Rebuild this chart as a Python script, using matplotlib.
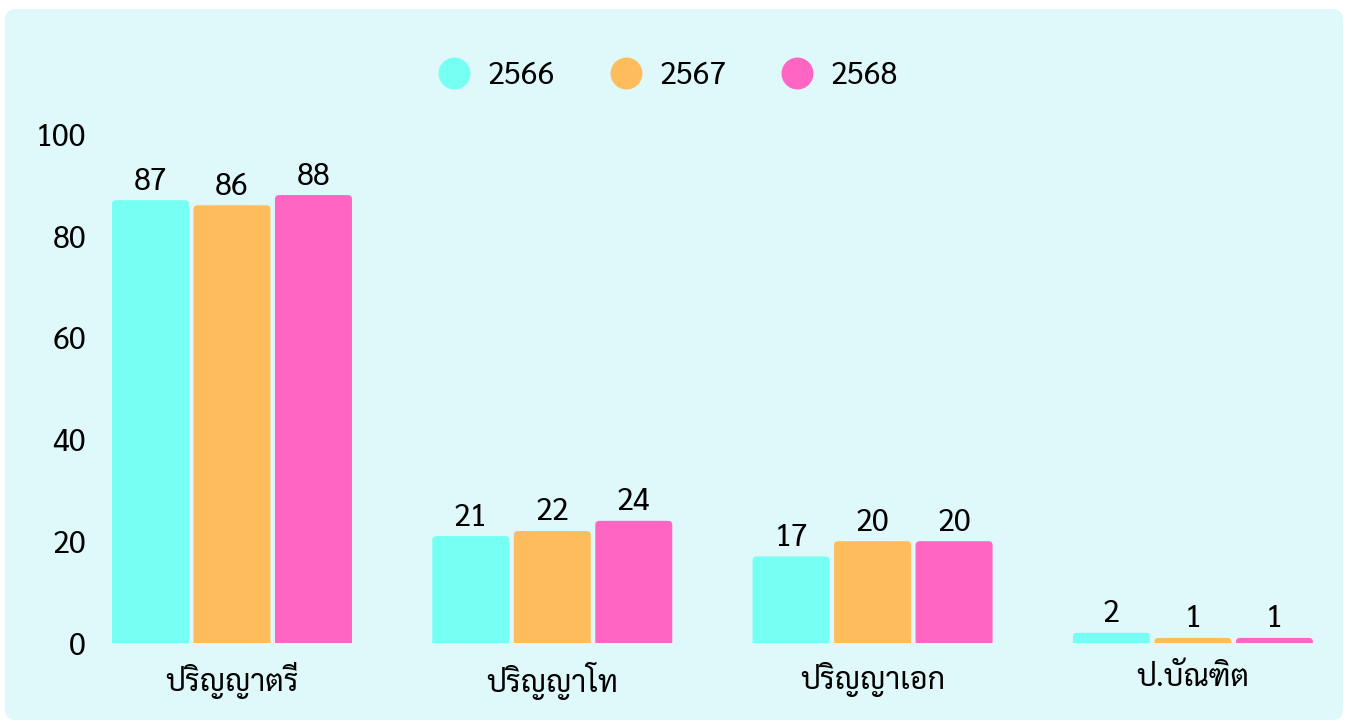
import matplotlib
matplotlib.use('Agg')
import matplotlib.pyplot as plt
from matplotlib.patches import FancyBboxPatch
from matplotlib.lines import Line2D
import numpy as np

categories = ['ปริญญาตรี', 'ปริญญาโท', 'ปริญญาเอก', 'ป.บัณฑิต']
years = ['2566', '2567', '2568']
values_2566 = [87, 21, 17, 2]
values_2567 = [86, 22, 20, 1]
values_2568 = [88, 24, 20, 1]
colors = ['#76FFF3', '#FDBD5D', '#FF66C4']

plt.rcParams['font.family'] = ['Sarabun', 'Noto Sans Thai Looped', 'DejaVu Sans']
FS = 22

fig = plt.figure(figsize=(13.47, 7.22), dpi=100)
fig.patch.set_facecolor('white')
fig.patches.append(FancyBboxPatch((5 / 1347, 2 / 722), 1338 / 1347, 711 / 722,
                                  boxstyle='round,pad=0,rounding_size=0.008',
                                  mutation_aspect=1347 / 722,
                                  transform=fig.transFigure, facecolor='#DFF9FB',
                                  edgecolor='none', zorder=-5))

ax = fig.add_axes([100 / 1347, 1 - 643 / 722, 1230 / 1347, 509 / 722])
ax.set_zorder(2)
ax.set_facecolor('none')
ax.set_xlim(-0.412, 3.428)
ax.set_ylim(0, 100)

x = np.arange(len(categories))
pitch = 81.5 / 320.3
width = 77 / 320.3
rx = 4 / 320.3
ry = 4 / 5.09
for i, vals in enumerate([values_2566, values_2567, values_2568]):
    for xi, v in zip(x, vals):
        left = xi + (i - 1) * pitch - width / 2
        # rounded box starts below zero, the axes clip hides the lower corners
        ax.add_patch(FancyBboxPatch((left, -3), width, v + 3,
                                    boxstyle='round,pad=0,rounding_size=%f' % rx,
                                    mutation_aspect=ry / rx,
                                    facecolor=colors[i], edgecolor='none'))
        ax.text(xi + (i - 1) * pitch, v + 0.6, str(v), ha='center', va='bottom',
                fontsize=FS, color='black')

ax.set_xticks(x)
ax.set_xticklabels(categories, fontsize=FS)
ax.set_yticks([0, 20, 40, 60, 80, 100])
ax.tick_params(axis='both', length=0, labelsize=FS, colors='black')
ax.tick_params(axis='x', pad=14)
ax.tick_params(axis='y', pad=10)
for s in ax.spines.values():
    s.set_visible(False)

handles = [Line2D([], [], marker='o', linestyle='none', markersize=23,
                  markerfacecolor=c, markeredgecolor='none') for c in colors]
fig.legend(handles, years, loc='center', bbox_to_anchor=(667 / 1347, 1 - 76 / 722),
           ncol=3, frameon=False, fontsize=FS, handletextpad=0.5, columnspacing=1.7,
           handlelength=1.2)

fig.savefig('out.png', dpi=100)
